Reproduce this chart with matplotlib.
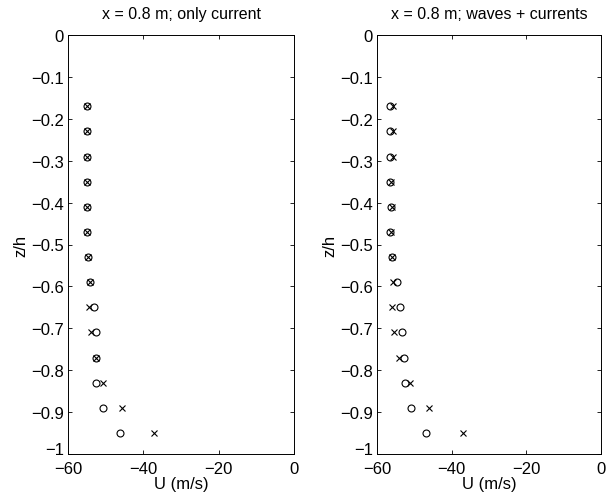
import matplotlib
matplotlib.use("Agg")
import matplotlib.pyplot as plt

# depth levels (z/h)
z = [-0.17, -0.23, -0.29, -0.35, -0.41, -0.47, -0.53, -0.59,
     -0.65, -0.71, -0.77, -0.83, -0.89, -0.95]

# only current
u_cur_o = [-55.0, -55.0, -55.0, -55.0, -55.0, -55.0, -54.6, -54.2,
           -53.0, -52.6, -52.6, -52.6, -50.8, -46.2]
u_cur_x = [-55.0, -55.0, -55.0, -55.0, -55.0, -55.0, -54.6, -54.2,
           -54.4, -54.0, -52.6, -50.6, -45.6, -37.3]

# waves + currents
u_wc_o = [-56.5, -56.5, -56.5, -56.5, -56.2, -56.5, -56.1, -54.7,
          -53.8, -53.2, -52.7, -52.5, -51.0, -46.9]
u_wc_x = [-55.8, -55.8, -55.6, -56.3, -56.0, -56.3, -55.9, -55.6,
          -55.9, -55.4, -54.0, -51.2, -46.2, -36.9]

titles = ["x = 0.8 m; only current", "x = 0.8 m; waves + currents"]
xticks = [-60, -40, -20, 0]
yticks = [0, -0.1, -0.2, -0.3, -0.4, -0.5, -0.6, -0.7, -0.8, -0.9, -1]
ylabels = ["0", "\u22120.1", "\u22120.2", "\u22120.3", "\u22120.4", "\u22120.5",
           "\u22120.6", "\u22120.7", "\u22120.8", "\u22120.9", "\u22121"]

plt.rcParams["font.family"] = ["Liberation Sans", "DejaVu Sans"]

fig = plt.figure(figsize=(6.08, 5.02), dpi=100)
ax1 = fig.add_axes([68 / 608, 47 / 502, 226 / 608, 419 / 502])
ax2 = fig.add_axes([377 / 608, 47 / 502, 224 / 608, 419 / 502])

data = [(u_cur_o, u_cur_x), (u_wc_o, u_wc_x)]
for ax, (uo, ux), title in zip([ax1, ax2], data, titles):
    ax.plot(uo, z, linestyle="none", marker="o", markersize=5,
            markerfacecolor="none", markeredgecolor="black", markeredgewidth=0.8)
    ax.plot(ux, z, linestyle="none", marker="x", markersize=4,
            color="black", markeredgewidth=0.8)
    ax.set_xlim(-60, 0)
    ax.set_ylim(-1, 0)
    ax.set_xticks(xticks)
    ax.set_xticklabels([str(t).replace("-", "\u2212") for t in xticks])
    ax.set_yticks(yticks)
    ax.set_yticklabels(ylabels)
    ax.tick_params(direction="in", top=True, right=True, length=3, width=0.6,
                   labelsize=12, pad=3)
    ax.tick_params(axis="x", pad=5)
    # lift the "-1" label a little so it clears the "-60" below it
    ax.get_yticklabels()[-1].set_verticalalignment("baseline")
    for s in ax.spines.values():
        s.set_linewidth(0.7)
    ax.set_title(title, fontsize=11.5, pad=12)
    ax.set_xlabel("U (m/s)", fontsize=12, labelpad=0)
    ax.set_ylabel("z/h", fontsize=12, labelpad=2)

fig.savefig("out.png", dpi=100)
